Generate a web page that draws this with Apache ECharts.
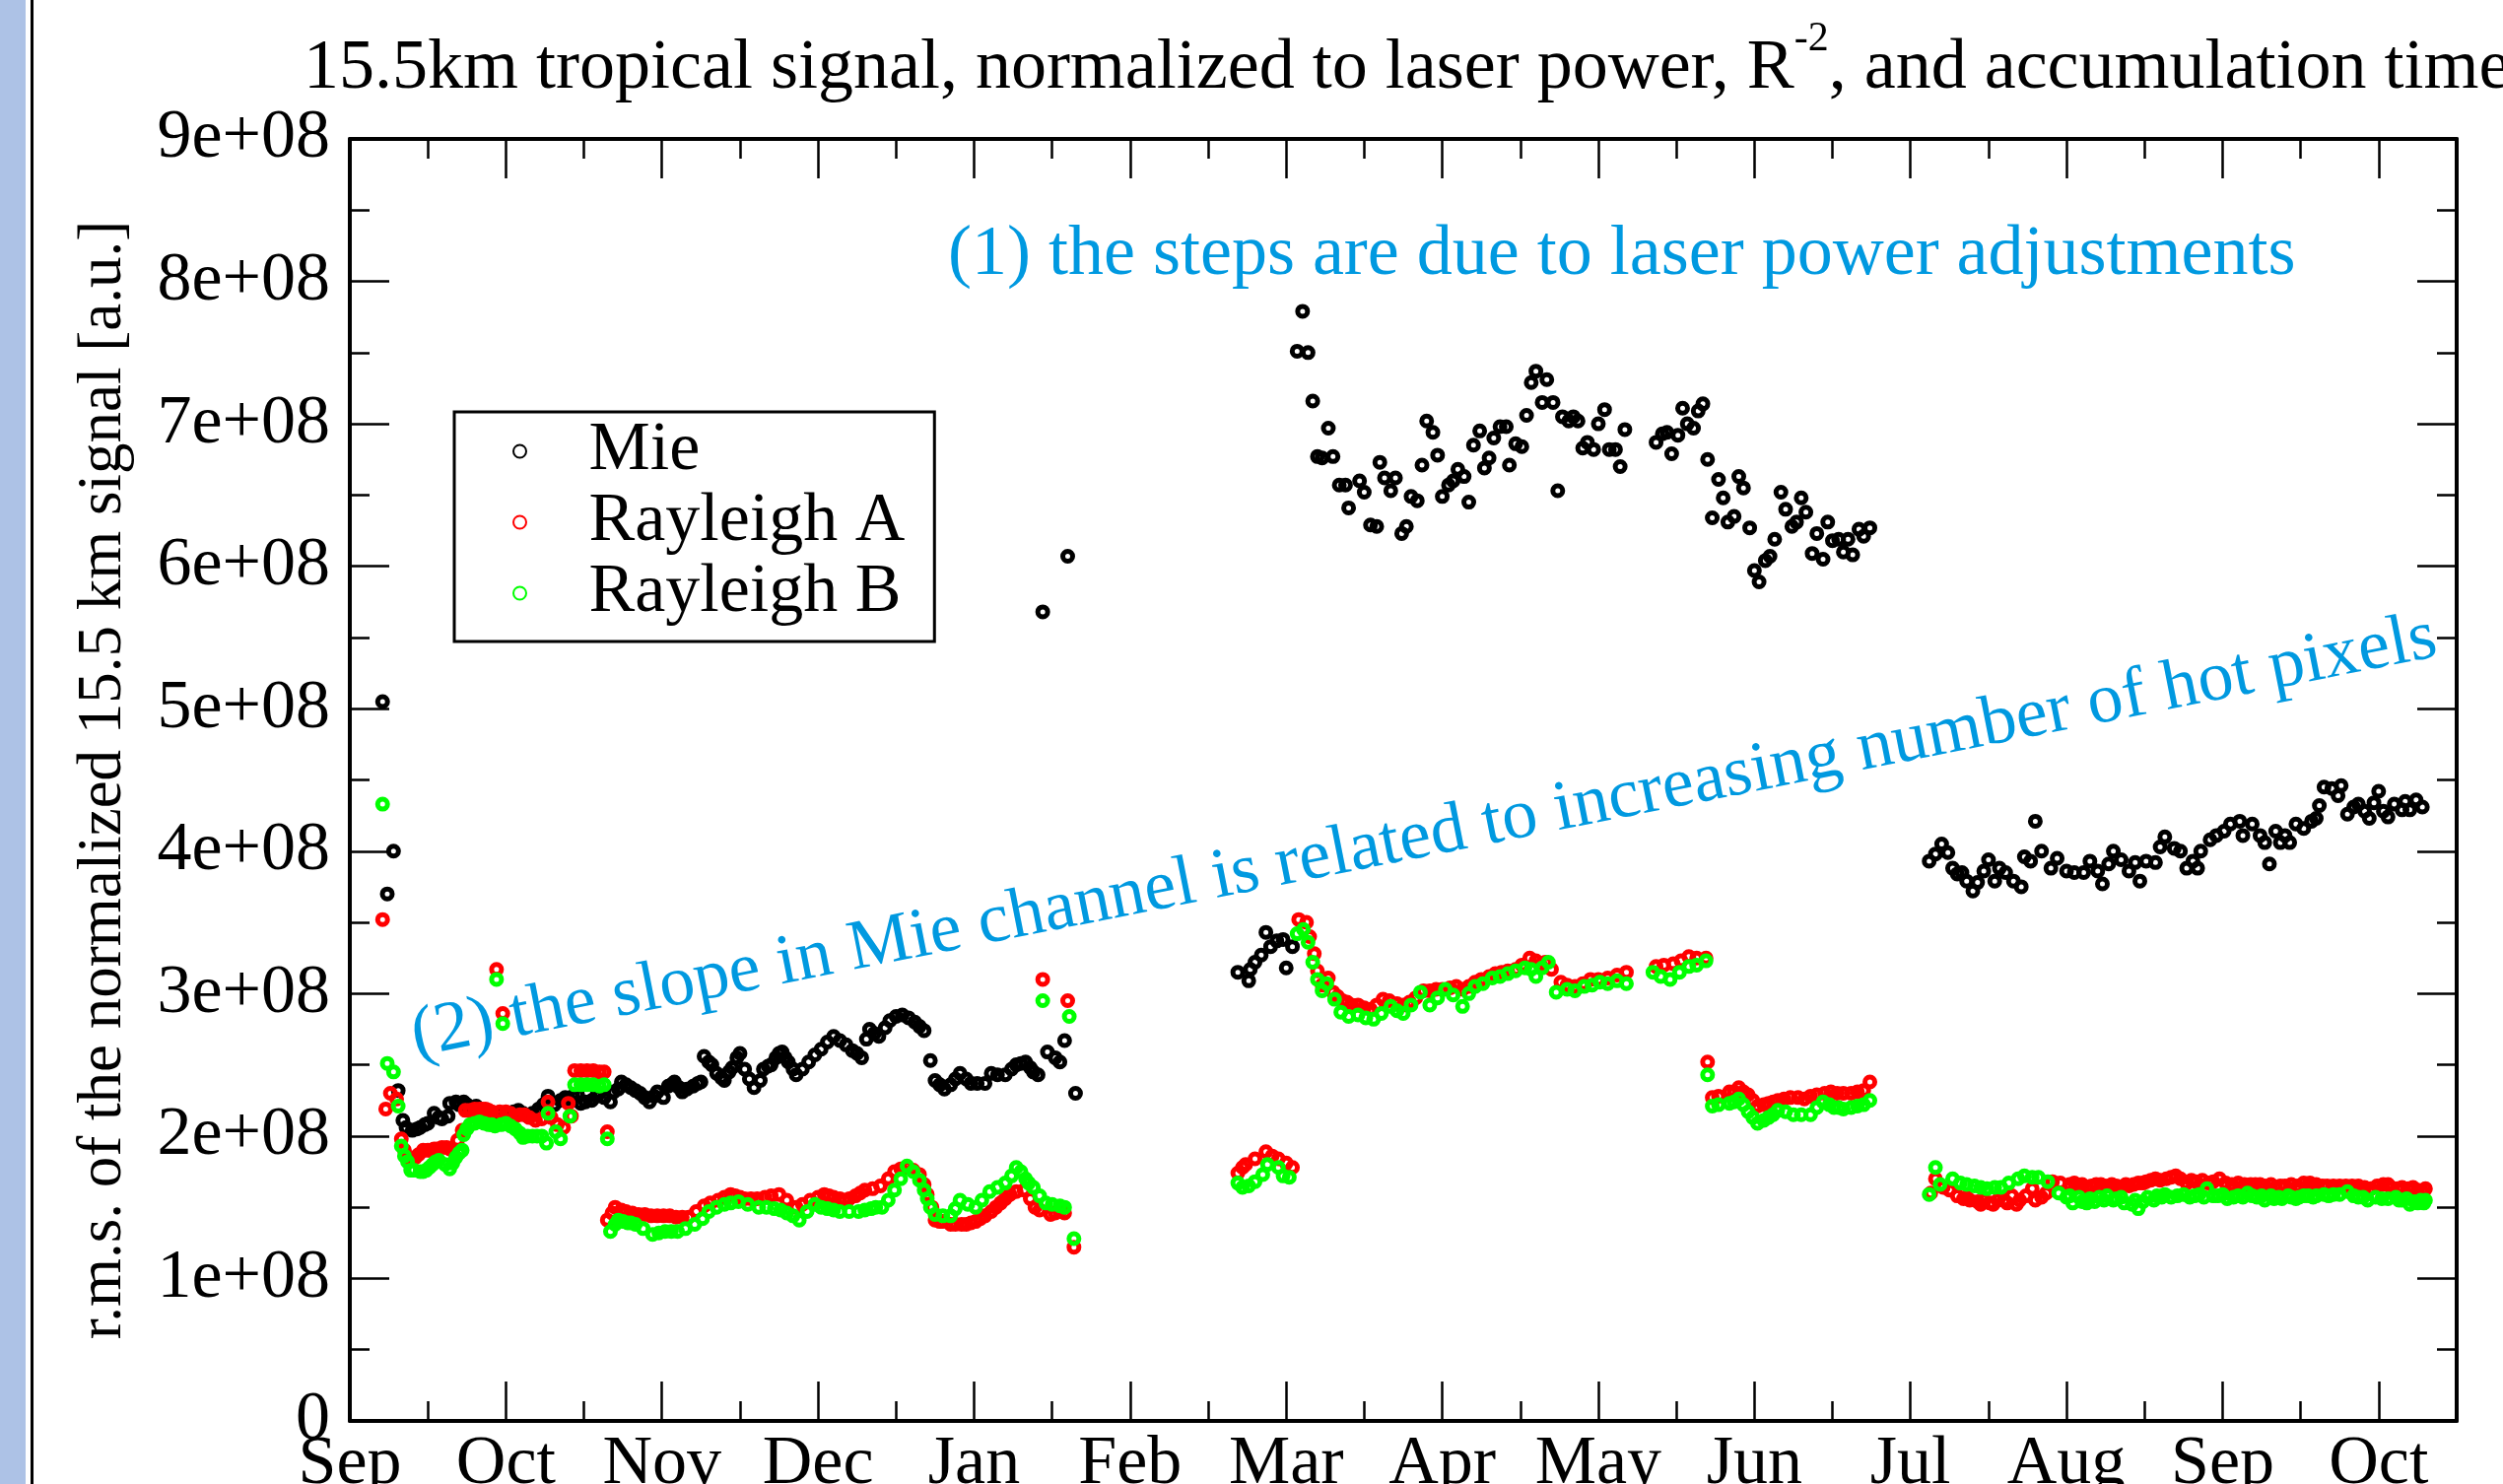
<!DOCTYPE html>
<html><head><meta charset="utf-8">
<script src="https://cdn.jsdelivr.net/npm/echarts@6/dist/echarts.min.js"></script>
<style>html,body{margin:0;padding:0;background:#fff}#c{width:2540px;height:1506px}</style>
</head><body><div id="c"></div>
<script>
// x = months since start of first September; y = signal in units of 1e8
const xTickLabels = ['Sep','Oct','Nov','Dec','Jan','Feb','Mar','Apr','May','Jun','Jul','Aug','Sep','Oct'];
const yTickLabels = ['0','1e+08','2e+08','3e+08','4e+08','5e+08','6e+08','7e+08','8e+08','9e+08'];
const seriesNames = ['Mie','Rayleigh A','Rayleigh B'];

const mieSepJan = [[0.21,5.05],[0.24,3.70],[0.28,4.00],[0.31,2.32],[0.34,2.11],[0.36,2.06],[0.40,2.04],[0.43,2.05],[0.45,2.06],[0.48,2.08],[0.50,2.09],[0.54,2.16],[0.57,2.13],[0.59,2.12],[0.63,2.14],[0.64,2.23],[0.68,2.24],[0.70,2.22],[0.73,2.24],[0.75,2.22],[0.77,2.20],[0.79,2.20],[0.81,2.21],[0.85,2.18],[0.88,2.16],[0.90,2.14],[0.94,2.15],[0.97,2.15],[1.00,2.16],[1.02,2.16],[1.05,2.17],[1.08,2.18],[1.11,2.16],[1.14,2.14],[1.17,2.16],[1.21,2.19],[1.24,2.22],[1.27,2.28],[1.31,2.22],[1.35,2.25],[1.38,2.27],[1.40,2.26],[1.43,2.28],[1.46,2.29],[1.48,2.23],[1.51,2.24],[1.55,2.25],[1.58,2.28],[1.60,2.30],[1.63,2.27],[1.67,2.24],[1.69,2.31],[1.72,2.33],[1.74,2.38],[1.77,2.36],[1.80,2.34],[1.83,2.32],[1.86,2.30],[1.89,2.27],[1.92,2.24],[1.95,2.28],[1.97,2.31],[2.01,2.27],[2.04,2.35],[2.06,2.36],[2.08,2.38],[2.11,2.34],[2.13,2.31],[2.16,2.33],[2.20,2.35],[2.23,2.37],[2.25,2.38],[2.27,2.56],[2.30,2.52],[2.32,2.50],[2.35,2.44],[2.38,2.41],[2.40,2.39],[2.43,2.45],[2.45,2.48],[2.48,2.55],[2.50,2.58],[2.53,2.47],[2.56,2.40],[2.59,2.34],[2.63,2.39],[2.65,2.47],[2.68,2.49],[2.70,2.50],[2.73,2.55],[2.75,2.58],[2.77,2.59],[2.79,2.55],[2.81,2.52],[2.84,2.47],[2.86,2.43],[2.90,2.47],[2.94,2.52],[2.98,2.57],[3.02,2.61],[3.06,2.66],[3.10,2.70],[3.14,2.67],[3.18,2.64],[3.22,2.60],[3.25,2.58],[3.28,2.55],[3.31,2.68],[3.33,2.75],[3.36,2.72],[3.39,2.70],[3.43,2.76],[3.46,2.81],[3.50,2.84],[3.54,2.85],[3.58,2.83],[3.62,2.80],[3.65,2.77],[3.68,2.74],[3.72,2.53],[3.75,2.39],[3.78,2.36],[3.81,2.33],[3.85,2.36],[3.88,2.40],[3.91,2.44],[3.95,2.40],[3.98,2.37],[4.02,2.37],[4.07,2.37],[4.11,2.44],[4.15,2.43],[4.20,2.43],[4.24,2.47],[4.27,2.50],[4.30,2.51],[4.33,2.52],[4.36,2.48],[4.38,2.45],[4.41,2.43],[4.44,5.68],[4.47,2.59],[4.52,2.55],[4.55,2.52],[4.58,2.67],[4.60,6.07],[4.65,2.30]];
const mieMarJun = [[5.69,3.15],[5.76,3.09],[5.77,3.17],[5.80,3.22],[5.84,3.27],[5.87,3.43],[5.90,3.33],[5.94,3.37],[5.98,3.38],[6.00,3.18],[6.04,3.33],[6.07,7.51],[6.105,7.79],[6.14,7.50],[6.17,7.16],[6.20,6.77],[6.23,6.76],[6.27,6.97],[6.30,6.77],[6.34,6.57],[6.38,6.57],[6.40,6.41],[6.47,6.60],[6.50,6.52],[6.54,6.29],[6.58,6.28],[6.60,6.73],[6.63,6.62],[6.67,6.53],[6.70,6.62],[6.74,6.23],[6.77,6.28],[6.80,6.49],[6.84,6.46],[6.87,6.71],[6.90,7.02],[6.94,6.94],[6.97,6.78],[7.00,6.49],[7.04,6.57],[7.07,6.60],[7.10,6.68],[7.14,6.63],[7.17,6.45],[7.20,6.85],[7.24,6.95],[7.27,6.69],[7.30,6.76],[7.33,6.90],[7.37,6.98],[7.41,6.98],[7.43,6.71],[7.47,6.86],[7.51,6.84],[7.54,7.06],[7.57,7.29],[7.60,7.37],[7.64,7.15],[7.67,7.31],[7.71,7.15],[7.74,6.53],[7.77,7.05],[7.81,7.02],[7.84,7.05],[7.87,7.02],[7.90,6.83],[7.93,6.87],[7.97,6.82],[8.00,7.00],[8.04,7.10],[8.07,6.82],[8.11,6.82],[8.14,6.70],[8.17,6.96],[8.37,6.87],[8.41,6.93],[8.44,6.94],[8.47,6.79],[8.51,6.92],[8.54,7.11],[8.57,7.00],[8.61,6.97],[8.64,7.09],[8.67,7.14],[8.70,6.75],[8.73,6.34],[8.77,6.61],[8.80,6.48],[8.83,6.31],[8.87,6.35],[8.90,6.63],[8.93,6.55],[8.97,6.27],[9.00,5.97],[9.03,5.89],[9.07,6.04],[9.10,6.07],[9.13,6.19],[9.17,6.52],[9.20,6.40],[9.24,6.28],[9.27,6.31],[9.30,6.48],[9.33,6.38],[9.37,6.09],[9.40,6.23],[9.44,6.05],[9.47,6.31],[9.50,6.18],[9.54,6.19],[9.57,6.10],[9.60,6.19],[9.63,6.08],[9.67,6.26],[9.70,6.21],[9.74,6.27]];
const mieJulOct = [[10.12,3.93],[10.16,3.98],[10.20,4.05],[10.24,3.99],[10.27,3.88],[10.30,3.84],[10.33,3.85],[10.36,3.79],[10.40,3.72],[10.43,3.78],[10.47,3.86],[10.50,3.94],[10.54,3.79],[10.57,3.88],[10.61,3.85],[10.66,3.79],[10.71,3.75],[10.73,3.96],[10.77,3.93],[10.80,4.21],[10.84,4.00],[10.90,3.88],[10.94,3.95],[11.00,3.86],[11.05,3.85],[11.11,3.85],[11.15,3.93],[11.20,3.86],[11.23,3.77],[11.27,3.91],[11.30,4.00],[11.35,3.94],[11.40,3.86],[11.44,3.92],[11.47,3.79],[11.51,3.93],[11.57,3.92],[11.60,4.03],[11.63,4.10],[11.69,4.02],[11.73,4.00],[11.77,3.88],[11.81,3.93],[11.84,3.88],[11.86,4.00],[11.92,4.08],[11.96,4.11],[12.01,4.14],[12.05,4.19],[12.11,4.21],[12.13,4.11],[12.19,4.19],[12.24,4.11],[12.27,4.06],[12.30,3.91],[12.34,4.14],[12.37,4.06],[12.40,4.11],[12.43,4.06],[12.47,4.19],[12.52,4.16],[12.57,4.21],[12.60,4.23],[12.62,4.32],[12.65,4.45],[12.70,4.44],[12.74,4.39],[12.76,4.46],[12.80,4.26],[12.84,4.31],[12.87,4.33],[12.91,4.28],[12.94,4.23],[12.97,4.34],[13.00,4.42],[13.03,4.28],[13.06,4.24],[13.10,4.33],[13.15,4.29],[13.17,4.35],[13.20,4.29],[13.24,4.36],[13.28,4.31]];

const rayASepJan = [[0.21,3.52],[0.23,2.19],[0.26,2.30],[0.30,2.26],[0.33,1.98],[0.35,1.90],[0.38,1.83],[0.40,1.84],[0.42,1.85],[0.44,1.87],[0.47,1.90],[0.50,1.90],[0.52,1.90],[0.54,1.91],[0.56,1.91],[0.59,1.92],[0.62,1.92],[0.64,1.91],[0.66,1.90],[0.69,1.97],[0.72,2.04],[0.74,2.18],[0.77,2.18],[0.80,2.19],[0.83,2.19],[0.85,2.19],[0.87,2.19],[0.89,2.18],[0.91,2.17],[0.94,3.17],[0.96,2.17],[0.98,2.86],[1.00,2.17],[1.03,2.16],[1.06,2.14],[1.09,2.15],[1.12,2.15],[1.15,2.13],[1.19,2.11],[1.23,2.12],[1.27,2.24],[1.29,2.13],[1.33,2.08],[1.37,2.06],[1.40,2.23],[1.42,2.14],[1.44,2.46],[1.48,2.46],[1.52,2.46],[1.56,2.46],[1.60,2.45],[1.63,2.45],[1.65,2.03],[1.65,1.41],[1.68,1.46],[1.70,1.50],[1.74,1.48],[1.77,1.47],[1.81,1.46],[1.85,1.45],[1.89,1.45],[1.93,1.44],[1.97,1.44],[2.01,1.44],[2.05,1.44],[2.09,1.43],[2.13,1.43],[2.17,1.43],[2.22,1.47],[2.27,1.51],[2.31,1.53],[2.36,1.55],[2.40,1.57],[2.44,1.59],[2.47,1.58],[2.50,1.57],[2.53,1.56],[2.57,1.56],[2.61,1.56],[2.66,1.57],[2.70,1.58],[2.75,1.59],[2.80,1.55],[2.86,1.50],[2.90,1.52],[2.95,1.55],[3.00,1.57],[3.04,1.59],[3.07,1.58],[3.10,1.57],[3.14,1.56],[3.17,1.55],[3.20,1.56],[3.24,1.58],[3.27,1.60],[3.30,1.62],[3.35,1.63],[3.40,1.65],[3.45,1.70],[3.49,1.75],[3.53,1.77],[3.57,1.78],[3.61,1.76],[3.65,1.73],[3.68,1.66],[3.70,1.59],[3.73,1.50],[3.75,1.41],[3.78,1.40],[3.80,1.40],[3.85,1.38],[3.88,1.38],[3.92,1.38],[3.95,1.38],[3.98,1.39],[4.01,1.40],[4.04,1.42],[4.07,1.44],[4.11,1.47],[4.14,1.50],[4.17,1.53],[4.20,1.56],[4.23,1.59],[4.27,1.61],[4.32,1.62],[4.36,1.56],[4.39,1.50],[4.42,1.48],[4.44,3.10],[4.49,1.45],[4.52,1.46],[4.55,1.47],[4.58,1.46],[4.60,2.95],[4.64,1.22]];
const rayAMarJun = [[5.69,1.74],[5.72,1.78],[5.74,1.80],[5.80,1.84],[5.87,1.89],[5.91,1.86],[5.95,1.84],[6.00,1.81],[6.04,1.78],[6.08,3.52],[6.13,3.50],[6.15,3.40],[6.18,3.28],[6.20,3.16],[6.23,3.06],[6.27,3.11],[6.30,3.01],[6.33,2.98],[6.36,2.95],[6.39,2.94],[6.42,2.92],[6.46,2.92],[6.50,2.90],[6.54,2.89],[6.58,2.92],[6.62,2.96],[6.66,2.95],[6.71,2.93],[6.75,2.92],[6.79,2.94],[6.83,2.97],[6.88,3.02],[6.92,3.02],[6.96,3.03],[7.00,3.03],[7.05,3.04],[7.09,3.05],[7.13,3.03],[7.17,3.05],[7.21,3.08],[7.25,3.10],[7.30,3.12],[7.34,3.14],[7.38,3.15],[7.42,3.16],[7.47,3.17],[7.51,3.20],[7.56,3.25],[7.60,3.23],[7.63,3.20],[7.66,3.22],[7.70,3.17],[7.76,3.08],[7.80,3.06],[7.85,3.05],[7.90,3.07],[7.95,3.10],[8.00,3.10],[8.06,3.11],[8.12,3.13],[8.18,3.15],[8.37,3.19],[8.42,3.20],[8.48,3.21],[8.53,3.23],[8.58,3.26],[8.63,3.25],[8.69,3.25],[8.70,2.52],[8.73,2.27],[8.77,2.28],[8.84,2.31],[8.87,2.31],[8.90,2.34],[8.93,2.31],[8.96,2.29],[8.99,2.25],[9.02,2.21],[9.06,2.22],[9.09,2.23],[9.12,2.24],[9.15,2.25],[9.19,2.26],[9.23,2.27],[9.28,2.27],[9.32,2.26],[9.36,2.28],[9.40,2.29],[9.45,2.30],[9.49,2.31],[9.53,2.30],[9.57,2.30],[9.62,2.30],[9.66,2.31],[9.70,2.32],[9.74,2.38]];
const rayAJulOct = [[10.13,1.60],[10.16,1.70],[10.21,1.64],[10.25,1.62],[10.30,1.58],[10.34,1.56],[10.36,1.57],[10.38,1.55],[10.43,1.54],[10.45,1.52],[10.47,1.55],[10.51,1.53],[10.53,1.52],[10.56,1.55],[10.60,1.55],[10.62,1.53],[10.65,1.58],[10.68,1.52],[10.70,1.55],[10.74,1.58],[10.78,1.63],[10.80,1.55],[10.84,1.57],[10.87,1.60],[10.91,1.68],[10.96,1.67],[11.02,1.66],[11.05,1.67],[11.07,1.65],[11.10,1.66],[11.13,1.64],[11.16,1.65],[11.19,1.66],[11.22,1.66],[11.24,1.65],[11.27,1.65],[11.29,1.66],[11.32,1.65],[11.35,1.64],[11.38,1.66],[11.40,1.65],[11.43,1.66],[11.46,1.67],[11.49,1.67],[11.51,1.68],[11.54,1.69],[11.57,1.70],[11.60,1.69],[11.64,1.70],[11.67,1.71],[11.70,1.72],[11.73,1.70],[11.77,1.67],[11.80,1.69],[11.83,1.68],[11.87,1.69],[11.91,1.67],[11.94,1.68],[11.98,1.70],[12.02,1.67],[12.06,1.66],[12.10,1.67],[12.14,1.66],[12.18,1.66],[12.21,1.66],[12.24,1.66],[12.27,1.65],[12.31,1.66],[12.34,1.64],[12.37,1.65],[12.40,1.65],[12.44,1.66],[12.48,1.65],[12.52,1.67],[12.56,1.67],[12.60,1.66],[12.64,1.65],[12.67,1.65],[12.71,1.65],[12.75,1.65],[12.79,1.65],[12.83,1.65],[12.87,1.65],[12.91,1.64],[12.95,1.63],[12.99,1.65],[13.03,1.66],[13.06,1.66],[13.08,1.64],[13.12,1.63],[13.15,1.64],[13.19,1.63],[13.22,1.64],[13.25,1.62],[13.28,1.61],[13.30,1.63]];

const rayBSepJan = [[0.21,4.33],[0.24,2.51],[0.28,2.45],[0.31,2.21],[0.33,1.93],[0.35,1.86],[0.37,1.82],[0.39,1.76],[0.41,1.76],[0.45,1.75],[0.47,1.75],[0.49,1.76],[0.51,1.78],[0.53,1.80],[0.55,1.82],[0.57,1.83],[0.61,1.80],[0.64,1.77],[0.66,1.81],[0.68,1.85],[0.70,1.88],[0.72,1.90],[0.73,2.01],[0.75,2.05],[0.77,2.08],[0.80,2.09],[0.83,2.10],[0.86,2.09],[0.89,2.08],[0.91,2.08],[0.93,2.07],[0.94,3.10],[0.97,2.08],[0.98,2.79],[1.00,2.09],[1.03,2.07],[1.06,2.05],[1.09,2.02],[1.11,1.99],[1.14,2.00],[1.17,2.00],[1.20,2.00],[1.23,2.00],[1.26,1.95],[1.27,2.16],[1.32,2.03],[1.35,1.98],[1.41,2.14],[1.44,2.36],[1.48,2.36],[1.52,2.36],[1.56,2.36],[1.60,2.35],[1.63,2.36],[1.65,1.98],[1.67,1.33],[1.70,1.38],[1.72,1.41],[1.75,1.40],[1.78,1.39],[1.80,1.39],[1.83,1.38],[1.88,1.35],[1.94,1.31],[1.98,1.32],[2.02,1.33],[2.06,1.33],[2.10,1.33],[2.15,1.35],[2.21,1.38],[2.26,1.42],[2.30,1.47],[2.35,1.50],[2.40,1.52],[2.44,1.53],[2.49,1.54],[2.55,1.52],[2.62,1.50],[2.67,1.50],[2.72,1.49],[2.76,1.48],[2.80,1.46],[2.84,1.44],[2.88,1.41],[2.93,1.47],[2.98,1.52],[3.02,1.50],[3.06,1.49],[3.10,1.48],[3.14,1.47],[3.20,1.47],[3.26,1.47],[3.30,1.48],[3.34,1.49],[3.37,1.50],[3.41,1.50],[3.45,1.55],[3.49,1.62],[3.53,1.70],[3.57,1.79],[3.61,1.75],[3.65,1.69],[3.68,1.62],[3.70,1.56],[3.72,1.50],[3.75,1.45],[3.80,1.44],[3.85,1.44],[3.88,1.49],[3.91,1.55],[3.96,1.52],[4.01,1.50],[4.05,1.55],[4.10,1.61],[4.15,1.64],[4.20,1.67],[4.24,1.72],[4.27,1.78],[4.30,1.75],[4.33,1.70],[4.35,1.67],[4.38,1.64],[4.42,1.58],[4.44,2.95],[4.46,1.53],[4.50,1.52],[4.55,1.51],[4.58,1.50],[4.61,2.84],[4.64,1.28]];
const rayBMarJun = [[5.69,1.67],[5.72,1.64],[5.76,1.65],[5.80,1.68],[5.85,1.73],[5.88,1.80],[5.95,1.78],[5.98,1.72],[6.02,1.71],[6.07,3.42],[6.11,3.45],[6.14,3.36],[6.17,3.22],[6.20,3.10],[6.23,3.02],[6.26,3.07],[6.31,2.96],[6.35,2.87],[6.40,2.84],[6.46,2.85],[6.51,2.83],[6.56,2.82],[6.61,2.86],[6.67,2.91],[6.71,2.88],[6.75,2.86],[6.80,2.92],[6.86,3.01],[6.92,2.92],[6.97,2.97],[7.02,3.03],[7.07,2.99],[7.13,2.91],[7.17,3.00],[7.21,3.05],[7.26,3.07],[7.32,3.11],[7.37,3.12],[7.42,3.14],[7.47,3.16],[7.53,3.18],[7.57,3.17],[7.60,3.12],[7.64,3.18],[7.68,3.22],[7.73,3.01],[7.80,3.03],[7.85,3.02],[7.91,3.05],[7.96,3.06],[8.01,3.08],[8.06,3.07],[8.12,3.09],[8.18,3.07],[8.35,3.15],[8.40,3.12],[8.46,3.10],[8.52,3.15],[8.58,3.19],[8.63,3.20],[8.69,3.23],[8.70,2.43],[8.73,2.21],[8.77,2.22],[8.84,2.23],[8.87,2.24],[8.90,2.26],[8.93,2.22],[8.96,2.17],[8.99,2.13],[9.02,2.09],[9.06,2.11],[9.09,2.13],[9.12,2.15],[9.15,2.18],[9.20,2.17],[9.25,2.15],[9.30,2.15],[9.36,2.15],[9.40,2.20],[9.44,2.24],[9.48,2.22],[9.51,2.20],[9.54,2.20],[9.57,2.19],[9.62,2.20],[9.66,2.21],[9.70,2.22],[9.74,2.25]];
const rayBJulOct = [[10.12,1.59],[10.16,1.78],[10.19,1.66],[10.27,1.70],[10.32,1.67],[10.36,1.66],[10.41,1.65],[10.45,1.64],[10.49,1.63],[10.54,1.64],[10.58,1.64],[10.63,1.67],[10.69,1.70],[10.73,1.72],[10.78,1.71],[10.82,1.71],[10.88,1.68],[10.95,1.60],[11.00,1.57],[11.02,1.58],[11.04,1.53],[11.08,1.57],[11.10,1.54],[11.13,1.53],[11.15,1.56],[11.18,1.54],[11.21,1.57],[11.24,1.55],[11.26,1.58],[11.30,1.55],[11.32,1.56],[11.35,1.57],[11.37,1.53],[11.42,1.52],[11.44,1.55],[11.46,1.49],[11.49,1.54],[11.52,1.57],[11.56,1.55],[11.58,1.58],[11.61,1.57],[11.63,1.59],[11.67,1.57],[11.71,1.58],[11.75,1.59],[11.79,1.57],[11.82,1.58],[11.85,1.59],[11.88,1.57],[11.90,1.63],[11.94,1.58],[11.97,1.58],[12.00,1.59],[12.03,1.56],[12.07,1.57],[12.10,1.58],[12.13,1.57],[12.16,1.60],[12.19,1.58],[12.22,1.57],[12.25,1.58],[12.27,1.55],[12.31,1.58],[12.33,1.56],[12.36,1.57],[12.38,1.56],[12.42,1.58],[12.44,1.57],[12.47,1.56],[12.49,1.57],[12.52,1.58],[12.55,1.58],[12.58,1.57],[12.60,1.58],[12.65,1.59],[12.68,1.58],[12.71,1.59],[12.75,1.59],[12.80,1.61],[12.84,1.58],[12.87,1.57],[12.90,1.57],[12.93,1.55],[12.98,1.57],[13.02,1.56],[13.06,1.56],[13.11,1.57],[13.13,1.55],[13.15,1.55],[13.18,1.56],[13.20,1.52],[13.23,1.54],[13.25,1.53],[13.27,1.55],[13.29,1.53],[13.30,1.55]];

const mieData = mieSepJan.concat(mieMarJun, mieJulOct);
const rayAData = rayASepJan.concat(rayAMarJun, rayAJulOct);
const rayBData = rayBSepJan.concat(rayBMarJun, rayBJulOct);

const FONT = 'Liberation Serif';
const chart = echarts.init(document.getElementById('c'));

function xAxisCfg(pos, showLabel) {
  return {
    type: 'value', position: pos, min: 0, max: 13.5, interval: 1,
    axisLine: { show: true, onZero: false, lineStyle: { color: '#000', width: 4 } },
    axisTick: { show: true, inside: true, length: 40, lineStyle: { color: '#000', width: 2.5 } },
    minorTick: { show: true, splitNumber: 2, length: 20, lineStyle: { color: '#000', width: 2.5 } },
    splitLine: { show: false },
    axisLabel: {
      show: showLabel, margin: 10, color: '#000', fontFamily: FONT, fontSize: 70,
      showMaxLabel: false,
      formatter: function (v) { const i = Math.round(v); return Math.abs(v - i) < 1e-6 ? (xTickLabels[i] || '') : ''; }
    }
  };
}
function yAxisCfg(pos, showLabel) {
  const c = {
    type: 'value', position: pos, min: 0, max: 9, interval: 1,
    axisLine: { show: true, onZero: false, lineStyle: { color: '#000', width: 4 } },
    axisTick: { show: true, inside: true, length: 40, lineStyle: { color: '#000', width: 2.5 } },
    minorTick: { show: true, splitNumber: 2, length: 20, lineStyle: { color: '#000', width: 2.5 } },
    splitLine: { show: false },
    axisLabel: {
      show: showLabel, margin: 20, color: '#000', fontFamily: FONT, fontSize: 70,
      formatter: function (v) { return yTickLabels[Math.round(v)]; }
    }
  };
  if (showLabel) {
    c.name = 'r.m.s. of the normalized 15.5 km signal [a.u.]';
    c.nameLocation = 'middle';
    c.nameRotate = 90;
    c.nameGap = 218;
    c.nameTextStyle = { color: '#000', fontFamily: FONT, fontSize: 63 };
  }
  return c;
}
function sc(name, data, color) {
  return {
    name: name, type: 'scatter', data: data, symbol: 'circle', symbolSize: 10,
    xAxisIndex: 0, yAxisIndex: 0,
    itemStyle: { color: 'rgba(0,0,0,0)', borderColor: color, borderWidth: 5, opacity: 1 },
    emphasis: { disabled: true }
  };
}

chart.setOption({
  animation: false,
  backgroundColor: '#fff',
  title: {
    text: '15.5km tropical signal, normalized to laser power, R{sup|-2}, and accumulation time',
    left: 308, top: 19, padding: 0,
    textStyle: {
      color: '#000', fontFamily: FONT, fontSize: 72, fontWeight: 'normal', lineHeight: 102,
      rich: { sup: { color: '#000', fontFamily: FONT, fontSize: 42, lineHeight: 42, verticalAlign: 'top' } }
    }
  },
  grid: { left: 355, right: 47, top: 141, bottom: 64, containLabel: false, outerBoundsMode: 'none' },
  xAxis: [xAxisCfg('bottom', true), xAxisCfg('top', false)],
  yAxis: [yAxisCfg('left', true), yAxisCfg('right', false)],
  legend: {
    orient: 'vertical', left: 461, top: 418,
    padding: [5, 30, 14, 59], itemGap: 2,
    itemWidth: 130, itemHeight: 13,
    borderColor: '#000', borderWidth: 3, backgroundColor: '#fff',
    textStyle: { color: '#000', fontFamily: FONT, fontSize: 70, lineHeight: 70 },
    data: seriesNames
  },
  graphic: [
    { type: 'rect', left: 0, top: 0, shape: { width: 26, height: 1506 }, style: { fill: '#adc2e6' }, silent: true },
    { type: 'rect', left: 31, top: 0, shape: { width: 3, height: 1506 }, style: { fill: '#000' }, silent: true },
    { type: 'text', x: 962, y: 259, silent: true,
      style: { text: '(1) the steps are due to laser power adjustments', fontFamily: FONT, fontSize: 72, fill: '#0099e0', align: 'left', verticalAlign: 'middle' } },
    { type: 'text', x: 1445, y: 850, rotation: 11.2 * Math.PI / 180, silent: true,
      style: { text: '(2) the slope in Mie channel is related to increasing number of hot pixels', fontFamily: FONT, fontSize: 72, fill: '#0099e0', align: 'center', verticalAlign: 'middle' } }
  ],
  series: [
    sc(seriesNames[0], mieData, '#000000'),
    sc(seriesNames[1], rayAData, '#ff0000'),
    sc(seriesNames[2], rayBData, '#00ff00')
  ]
});
</script></body></html>
